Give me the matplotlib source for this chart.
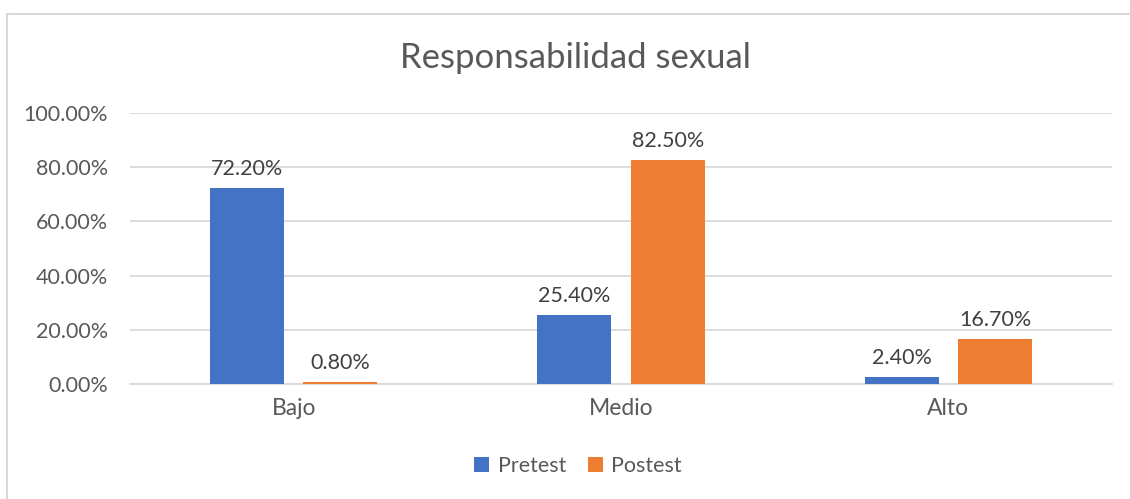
import matplotlib
matplotlib.use("Agg")
import matplotlib.pyplot as plt
from matplotlib.lines import Line2D
import numpy as np

categories = ["Bajo", "Medio", "Alto"]
pretest = [72.2, 25.4, 2.4]
postest = [0.8, 82.5, 16.7]
series_names = ["Pretest", "Postest"]
yticks = [0, 20, 40, 60, 80, 100]

plt.rcParams['font.family'] = ['Lato', 'DejaVu Sans']

fig = plt.figure(figsize=(11.3, 4.99), dpi=100)
ax = fig.add_axes([130/1130, 1-384/499, (1112-130)/1130, (384-113)/499])

x = np.arange(len(categories))
w = 0.226
off = 0.143
c1, c2 = "#4472C4", "#ED7D31"
b1 = ax.bar(x - off, pretest, w, color=c1, label=series_names[0], zorder=3)
b2 = ax.bar(x + off, postest, w, color=c2, label=series_names[1], zorder=3)

for bars, vals in ((b1, pretest), (b2, postest)):
    for b, v in zip(bars, vals):
        ax.annotate(f"{v:.2f}%", (b.get_x() + b.get_width()/2, v),
                    xytext=(0, 6.5), textcoords="offset points",
                    ha="center", va="bottom", fontsize=15.5, color="#404040")

ax.set_xlim(-0.5, 2.5)
ax.set_ylim(0, 100)
ax.set_yticks(yticks)
ax.set_yticklabels([f"{t:.2f}%" for t in yticks])
ax.set_xticks(x)
ax.set_xticklabels(categories)
ax.tick_params(axis='both', length=0, labelsize=15.5, labelcolor="#595959")
ax.tick_params(axis='y', pad=16)
ax.tick_params(axis='x', labelsize=16.5, pad=10)
ax.grid(axis='y', color="#D9D9D9", linewidth=1.3, zorder=0)
for s in ax.spines.values():
    s.set_visible(False)
ax.spines['bottom'].set_visible(True)
ax.spines['bottom'].set_color("#D9D9D9")
ax.spines['bottom'].set_linewidth(1.3)

fig.text(575/1130, 1-58/499, "Responsabilidad sexual", ha="center", va="center",
         fontsize=25, color="#595959")

leg = fig.legend(handles=[b1, b2], labels=series_names, loc="center",
                 bbox_to_anchor=(578/1130, 1-466/499), ncol=2, frameon=False,
                 fontsize=15.5, handlelength=0.7, handleheight=0.7,
                 handletextpad=0.4, columnspacing=1.0)
for t in leg.get_texts():
    t.set_color("#595959")

# outer chart frame (cropped)
fig.add_artist(Line2D([7/1130, 7/1130], [0, 1-14/499], transform=fig.transFigure,
                      color="#D9D9D9", linewidth=1.5))
fig.add_artist(Line2D([7/1130, 1], [1-14/499, 1-14/499], transform=fig.transFigure,
                      color="#D9D9D9", linewidth=1.5))

fig.savefig("out.png", dpi=100)
